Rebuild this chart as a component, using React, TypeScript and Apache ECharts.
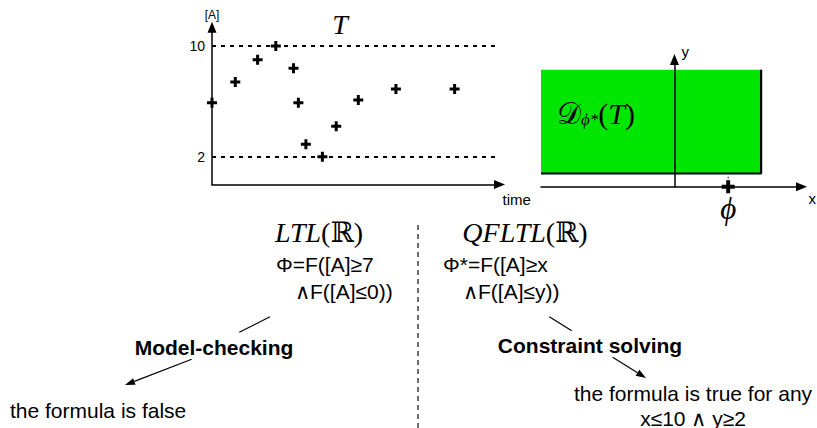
import React, { useEffect, useRef } from "react";
import * as echarts from "echarts";

// ---- data ----
const timeValues = [0, 0.96, 1.88, 2.63, 3.36, 3.56, 3.87, 4.55, 5.12, 6.03, 7.58, 10.0];
const concentration = [5.9, 7.4, 9.0, 10.0, 8.4, 5.9, 2.9, 2.0, 4.2, 6.1, 6.9, 6.9];
const boundLines = [10, 2];
const yTickLabels = [2, 10];
const tMax = 11.85;
const aMax = 11.35;

// parameter domain x <= 10, y >= 2
const paramXMin = -15.4;
const paramXMax = 14.66;
const paramYMax = 19.27;
const validX = 10;
const validY = 2;
const regionTop = 17.7;
const phiPoint = [6.2, 0];

const PLUS = "path://M-1.35,-4.5H1.35V-1.35H4.5V1.35H1.35V4.5H-1.35V1.35H-4.5V-1.35H-1.35Z";
const SANS = "Liberation Sans, Arial, Helvetica, sans-serif";
const SERIF = "Liberation Serif, DejaVu Serif, serif";

function arrow(x1: number, y1: number, x2: number, y2: number, head = 10, w = 7) {
  const dx = x2 - x1, dy = y2 - y1;
  const len = Math.hypot(dx, dy);
  const ux = dx / len, uy = dy / len;
  const bx = x2 - ux * head, by = y2 - uy * head;
  return [
    { type: "line", shape: { x1, y1, x2: bx, y2: by }, style: { stroke: "#000", lineWidth: 1.2 } },
    {
      type: "polygon",
      shape: { points: [[x2, y2], [bx - (uy * w) / 2, by + (ux * w) / 2], [bx + (uy * w) / 2, by - (ux * w) / 2]] },
      style: { fill: "#000" },
    },
  ];
}

function txt(text: string, x: number, y: number, opts: any = {}) {
  return {
    type: "text",
    x,
    y,
    style: {
      text,
      fill: "#000",
      fontSize: 21,
      fontFamily: SANS,
      textAlign: "left",
      textVerticalAlign: "middle",
      ...opts,
    },
  };
}

export default function App() {
  const ref = useRef<HTMLDivElement>(null);
  useEffect(() => {
    if (!ref.current) return;
    const chart = echarts.init(ref.current, null, { renderer: "svg" });
    const axisLine = (extra: any = {}) => ({
      show: true,
      lineStyle: { color: "#000", width: 1.5 },
      symbol: ["none", "triangle"],
      symbolSize: [9, 11],
      ...extra,
    });
    const mathRich = {
      i: { fontSize: 28, fontStyle: "italic", fontFamily: SERIF, fill: "#000" },
      r: { fontSize: 28, fontFamily: SERIF, fill: "#000" },
    };
    const option: any = {
      animation: false,
      grid: [
        { left: 212, top: 27.3, width: 287.5, height: 157.1 },
        { left: 541, top: 59.5, width: 261.5, height: 127.2 },
      ],
      xAxis: [
        {
          gridIndex: 0,
          type: "value",
          min: 0,
          max: tMax,
          axisLine: axisLine(),
          axisTick: { show: false },
          axisLabel: { show: false },
          splitLine: { show: false },
          name: "time",
          nameLocation: "end",
          nameGap: 3,
          nameTextStyle: { fontSize: 15, fontFamily: SANS, color: "#000", align: "left", verticalAlign: "top", padding: [8, 0, 0, 0] },
        },
        {
          gridIndex: 1,
          type: "value",
          min: paramXMin,
          max: paramXMax,
          z: 5,
          axisLine: axisLine({ onZero: true }),
          axisTick: { show: false },
          axisLabel: { show: false },
          splitLine: { show: false },
          name: "x",
          nameLocation: "end",
          nameGap: 7,
          nameTextStyle: { fontSize: 15, fontFamily: SANS, color: "#000", align: "left", verticalAlign: "top", padding: [4, 0, 0, 0] },
        },
      ],
      yAxis: [
        {
          gridIndex: 0,
          type: "value",
          min: 0,
          max: aMax,
          interval: 2,
          axisLine: axisLine(),
          axisTick: { show: false },
          axisLabel: {
            color: "#000",
            fontSize: 14,
            fontFamily: SANS,
            margin: 7,
            formatter: (v: number) => (yTickLabels.includes(v) ? String(v) : ""),
          },
          splitLine: { show: false },
          name: "[A]",
          nameLocation: "end",
          nameGap: 6,
          nameTextStyle: { fontSize: 12, fontFamily: SANS, color: "#000" },
        },
        {
          gridIndex: 1,
          type: "value",
          min: 0,
          max: paramYMax,
          z: 5,
          axisLine: axisLine({ onZero: true }),
          axisTick: { show: false },
          axisLabel: { show: false },
          splitLine: { show: false },
          name: "y",
          nameLocation: "end",
          nameGap: 1,
          nameTextStyle: { fontSize: 15, fontFamily: SANS, color: "#000", align: "left", padding: [0, 0, 0, 7] },
        },
      ],
      series: [
        {
          type: "scatter",
          xAxisIndex: 0,
          yAxisIndex: 0,
          data: timeValues.map((t, i) => [t, concentration[i]]),
          symbol: PLUS,
          symbolSize: 10,
          itemStyle: { color: "#000", opacity: 1 },
          z: 4,
          markLine: {
            silent: true,
            symbol: ["none", "none"],
            label: { show: false },
            lineStyle: { color: "#000", width: 2, type: [4, 5] },
            data: boundLines.map((v) => ({ yAxis: v })),
          },
        },
        {
          type: "line",
          xAxisIndex: 1,
          yAxisIndex: 1,
          data: [],
          z: 1,
          markArea: {
            silent: true,
            itemStyle: { color: "#00e600", opacity: 1 },
            data: [[{ xAxis: paramXMin, yAxis: validY }, { xAxis: validX, yAxis: regionTop }]],
          },
        },
        {
          type: "line",
          xAxisIndex: 1,
          yAxisIndex: 1,
          data: [[paramXMin, validY], [validX, validY], [validX, regionTop]],
          showSymbol: false,
          lineStyle: { color: "#000", width: 2.2 },
          z: 3,
        },
        {
          type: "line",
          xAxisIndex: 1,
          yAxisIndex: 1,
          data: [phiPoint, [phiPoint[0], validY]],
          showSymbol: false,
          lineStyle: { color: "#333", width: 1, type: [2, 2] },
          z: 3,
        },
        {
          type: "scatter",
          xAxisIndex: 1,
          yAxisIndex: 1,
          data: [phiPoint],
          symbol: PLUS,
          symbolSize: 13,
          itemStyle: { color: "#000", opacity: 1 },
          z: 6,
          label: {
            show: true,
            position: "bottom",
            distance: 0,
            formatter: "ϕ",
            fontSize: 31,
            fontStyle: "italic",
            fontFamily: SERIF,
            color: "#000",
          },
        },
      ],
      graphic: [
        txt("T", 340, 24, { fontSize: 28, fontStyle: "italic", fontFamily: SERIF, textAlign: "center" }),
        {
          type: "text",
          x: 557,
          y: 113,
          z: 10,
          style: {
            text: "{d|𝒟}{s|ϕ*}{p|(}{t|T}{p|)}",
            textVerticalAlign: "middle",
            rich: {
              d: { fontSize: 30, fontFamily: SERIF, fill: "#000" },
              s: { fontSize: 17, fontStyle: "italic", fontFamily: SERIF, fill: "#000", verticalAlign: "bottom" },
              p: { fontSize: 30, fontFamily: SERIF, fill: "#000" },
              t: { fontSize: 30, fontStyle: "italic", fontFamily: SERIF, fill: "#000" },
            },
          },
        },
        {
          type: "text",
          x: 319,
          y: 232,
          style: { text: "{i|LTL}{r|(ℝ)}", textAlign: "center", textVerticalAlign: "middle", rich: mathRich },
        },
        {
          type: "text",
          x: 525,
          y: 232,
          style: { text: "{i|QFLTL}{r|(ℝ)}", textAlign: "center", textVerticalAlign: "middle", rich: mathRich },
        },
        {
          type: "line",
          shape: { x1: 418, y1: 225, x2: 418, y2: 428 },
          style: { stroke: "#6e6e6e", lineWidth: 2, lineDash: [5, 4] },
        },
        txt("Φ=F([A]≥7", 276, 264),
        txt("∧F([A]≤0))", 295, 291),
        txt("Φ*=F([A]≥x", 443, 264),
        txt("∧F([A]≤y))", 463, 291),
        { type: "line", shape: { x1: 270, y1: 316.7, x2: 239.3, y2: 332.3 }, style: { stroke: "#000", lineWidth: 1.2 } },
        { type: "line", shape: { x1: 549.3, y1: 316.7, x2: 571.7, y2: 330.7 }, style: { stroke: "#000", lineWidth: 1.2 } },
        txt("Model-checking", 214, 347, { fontWeight: "bold", textAlign: "center" }),
        txt("Constraint solving", 590, 345, { fontWeight: "bold", textAlign: "center" }),
        ...arrow(191.7, 359.3, 125, 385),
        ...arrow(612.7, 357.3, 646, 378),
        txt("the formula is false", 10, 410),
        txt("the formula is true for any", 693, 393, { textAlign: "center" }),
        txt("x≤10 ∧ y≥2", 693, 418, { textAlign: "center" }),
      ],
    };
    chart.setOption(option);
    return () => chart.dispose();
  }, []);
  return (
    <div
      ref={ref}
      style={{ position: "absolute", left: 0, top: 0, width: 817, height: 428, background: "#fff" }}
    />
  );
}
